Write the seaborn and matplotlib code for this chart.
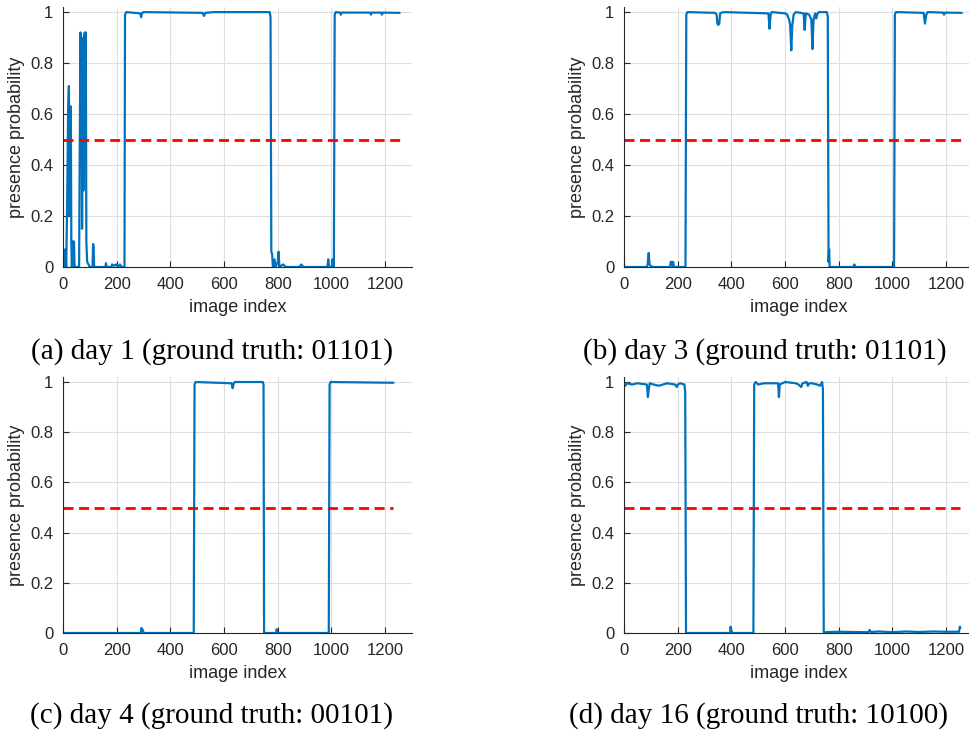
import numpy as np
import pandas as pd
import seaborn as sns
import matplotlib.pyplot as plt
import matplotlib.ticker as ticker

# key points (image index, presence probability)
day1_idx = [0, 4, 7, 9, 12, 16, 19, 22, 24, 27, 29, 31, 33, 36, 38, 41, 43, 60, 62, 65, 67, 69, 71, 73, 76,
            79, 81, 83, 85, 87, 90, 95, 100, 110, 112, 114, 116, 158, 160, 163, 180, 183, 190, 198, 205, 212,
            218, 229, 231, 236, 288, 291, 294, 300, 520, 525, 530, 560, 770, 773, 776, 779, 782, 788, 791,
            800, 803, 806, 820, 830, 880, 888, 895, 985, 988, 991, 1002, 1004, 1007, 1009, 1012, 1016, 1032,
            1035, 1038, 1144, 1147, 1150, 1185, 1188, 1191, 1254]
day1_prob = [0.0, 0.02, 0.0, 0.07, 0.0, 0.3, 0.6, 0.71, 0.2, 0.62, 0.63, 0.1, 0.0, 0.1, 0.0, 0.1, 0.0, 0.0,
             0.4, 0.92, 0.5, 0.9, 0.15, 0.85, 0.3, 0.9, 0.92, 0.6, 0.92, 0.1, 0.02, 0.01, 0.0, 0.0, 0.09, 0.08,
             0.0, 0.0, 0.015, 0.0, 0.0, 0.01, 0.005, 0.01, 0.0, 0.01, 0.0, 0.0, 0.99, 1.0, 0.995, 0.98, 0.995,
             1.0, 0.997, 0.985, 0.997, 1.0, 1.0, 0.98, 0.06, 0.05, 0.0, 0.03, 0.0, 0.02, 0.06, 0.0, 0.01, 0.0,
             0.0, 0.01, 0.0, 0.0, 0.03, 0.0, 0.0, 0.03, 0.0, 0.0, 0.99, 1.0, 0.998, 0.99, 0.998, 0.998, 0.99,
             0.998, 0.998, 0.99, 0.998, 0.997]

day3_idx = [0, 85, 88, 92, 95, 100, 110, 172, 174, 177, 180, 183, 186, 229, 232, 236, 340, 345, 348, 351,
            355, 358, 362, 370, 538, 542, 546, 550, 600, 608, 615, 619, 623, 627, 632, 640, 669, 673, 677,
            690, 698, 702, 706, 712, 716, 721, 726, 755, 759, 762, 764, 766, 768, 775, 855, 858, 862, 1006,
            1009, 1013, 1116, 1121, 1126, 1131, 1189, 1192, 1195, 1258]
day3_prob = [0.0, 0.0, 0.01, 0.055, 0.01, 0.003, 0.0, 0.0, 0.02, 0.02, 0.005, 0.02, 0.0, 0.0, 0.99, 1.0,
             0.997, 0.99, 0.955, 0.95, 0.955, 0.995, 0.997, 1.0, 0.995, 0.935, 0.99, 1.0, 0.995, 0.99, 0.97,
             0.95, 0.85, 0.95, 0.99, 1.0, 0.995, 0.93, 0.995, 0.99, 0.97, 0.855, 0.97, 0.995, 0.975, 0.995,
             1.0, 1.0, 0.985, 0.02, 0.07, 0.0, 0.0, 0.0, 0.0, 0.01, 0.0, 0.0, 0.99, 1.0, 0.997, 0.955, 0.99,
             1.0, 0.998, 0.99, 0.998, 0.997]

day4_idx = [0, 290, 292, 295, 298, 300, 487, 490, 494, 628, 632, 636, 640, 744, 747, 749, 794, 796, 799,
            990, 993, 997, 1231]
day4_prob = [0.0, 0.0, 0.02, 0.015, 0.01, 0.0, 0.0, 0.99, 1.0, 0.995, 0.975, 0.995, 1.0, 1.0, 0.99, 0.0,
             0.0, 0.015, 0.0, 0.0, 0.99, 1.0, 0.997]

day16_idx = [0, 5, 10, 30, 50, 85, 89, 92, 96, 110, 130, 160, 190, 197, 200, 210, 225, 228, 231, 395, 397,
             400, 403, 482, 485, 490, 500, 520, 574, 577, 580, 600, 640, 650, 660, 665, 680, 685, 690, 700,
             720, 730, 738, 741, 744, 800, 910, 915, 920, 950, 1000, 1050, 1100, 1150, 1200, 1248, 1251, 1253]
day16_prob = [0.99, 0.985, 0.995, 0.99, 0.995, 0.99, 0.94, 0.97, 0.995, 0.99, 0.985, 0.995, 0.99, 0.98,
              0.99, 0.995, 0.99, 0.96, 0.0, 0.0, 0.025, 0.01, 0.0, 0.0, 0.99, 1.0, 0.99, 0.995, 0.995, 0.94,
              0.99, 1.0, 0.995, 0.99, 0.98, 0.995, 1.0, 0.985, 0.995, 0.995, 0.99, 0.985, 1.0, 0.97, 0.003,
              0.005, 0.003, 0.012, 0.004, 0.006, 0.003, 0.006, 0.004, 0.006, 0.005, 0.005, 0.025, 0.02]

captions = ["(a) day 1 (ground truth: 01101)", "(b) day 3 (ground truth: 01101)",
            "(c) day 4 (ground truth: 00101)", "(d) day 16 (ground truth: 10100)"]
threshold = 0.5

sns.set_theme(style="whitegrid")
plt.rcParams["font.family"] = ["Liberation Sans", "DejaVu Sans"]

W, H = 970, 736
fig = plt.figure(figsize=(W / 100, H / 100), dpi=100)

# pixel boxes: left, top, bottom
boxes = [(63, 7, 267), (624, 7, 267), (63, 377, 633), (624, 377, 633)]
cap_pos = [(212, 352), (765, 352), (212, 716), (759, 716)]
series = [(day1_idx, day1_prob), (day3_idx, day3_prob), (day4_idx, day4_prob), (day16_idx, day16_prob)]
ax_w = 349

for (l, t, b), (xi, yp), cap, (cx, cy) in zip(boxes, series, captions, cap_pos):
    ax = fig.add_axes([l / W, 1 - b / H, ax_w / W, (b - t) / H])
    df = pd.DataFrame({"idx": xi, "prob": yp})
    sns.lineplot(data=df, x="idx", y="prob", ax=ax, estimator=None, sort=False,
                 color="#0072BD", linewidth=1.6)
    ax.plot([0, xi[-1]], [threshold, threshold], color="#FF0000", linewidth=2.0,
            dashes=(3.6, 2.0))
    ax.set_xlim(0, 1300)
    ax.set_ylim(0, 1.02)
    ax.set_xticks(range(0, 1201, 200))
    ax.set_yticks([0, 0.2, 0.4, 0.6, 0.8, 1.0])
    ax.yaxis.set_major_formatter(ticker.FuncFormatter(lambda v, p: f"{v:g}"))
    ax.set_facecolor("white")
    ax.grid(True, color="#DEDEDE", linewidth=0.8)
    for s in ["top", "right"]:
        ax.spines[s].set_visible(False)
    for s in ["left", "bottom"]:
        ax.spines[s].set_color("#262626")
        ax.spines[s].set_linewidth(0.8)
    ax.tick_params(direction="in", length=4, width=0.8, color="#262626", labelsize=12,
                   labelcolor="#262626", pad=7, left=True, bottom=True)
    ax.set_xlabel("image index", fontsize=13, color="#262626", labelpad=5)
    ax.set_ylabel("presence probability", fontsize=13, color="#262626", labelpad=4)
    fig.text(cx / W, 1 - cy / H, cap, ha="center", va="center", fontsize=21,
             family=["Liberation Serif", "DejaVu Serif"], color="black")

fig.savefig("out.png", dpi=100)
